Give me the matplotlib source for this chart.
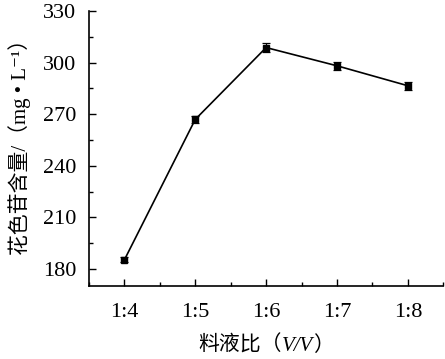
import numpy as np
import matplotlib
matplotlib.use('Agg')
import matplotlib.pyplot as plt
from matplotlib.ticker import MultipleLocator

# data
ratios = ['1:4', '1:5', '1:6', '1:7', '1:8']
content = [185.3, 267.0, 308.8, 298.2, 286.6]
errors = [1.5, 2.2, 2.6, 2.4, 2.3]

fam = ['Liberation Serif', 'Noto Sans CJK SC', 'DejaVu Serif']
plt.rcParams['font.family'] = fam

fig = plt.figure(figsize=(4.45, 3.59), dpi=100)
ax = fig.add_axes([0.2, 0.203, 0.796, 0.766])

x = np.arange(len(ratios))
ax.errorbar(x, content, yerr=errors, color='black', lw=1.2, marker='s',
            markersize=4.5, capsize=3, elinewidth=0.9, capthick=0.9)

ax.set_xlim(-0.5, 4.5)
ax.set_ylim(170, 330)
ax.set_xticks(x)
ax.set_xticklabels(ratios)
ax.xaxis.set_minor_locator(MultipleLocator(0.5))
ax.yaxis.set_minor_locator(MultipleLocator(15))
ax.set_yticks([180, 210, 240, 270, 300, 330])

for s in ['top', 'right']:
    ax.spines[s].set_visible(False)
for s in ['left', 'bottom']:
    ax.spines[s].set_linewidth(1.2)
ax.tick_params(which='both', direction='in', width=1.0, labelsize=16)
ax.tick_params(which='major', length=5)
ax.tick_params(which='minor', length=3)
ax.tick_params(axis='x', pad=12)
ax.tick_params(axis='y', pad=9)

ax.set_ylabel('花色苷含量/（mg • L⁻¹）', fontsize=15)
ax.yaxis.set_label_coords(-0.165, 0.525)

# x label in pieces so V/V can be italic
fig.canvas.draw()
r = fig.canvas.get_renderer()
ypos = 0.022
t1 = fig.text(0, ypos, '料液比（', fontsize=15)
t2 = fig.text(0, ypos, 'V/V', fontsize=15, style='italic')
t3 = fig.text(0, ypos, '）', fontsize=15)
w = [t.get_window_extent(r).width for t in (t1, t2, t3)]
total = sum(w)
cx = (ax.get_window_extent(r).x0 + ax.get_window_extent(r).x1) / 2
start = cx - total / 2
for t, wi in zip((t1, t2, t3), w):
    t.set_x(start / fig.bbox.width)
    start += wi

plt.savefig('out.png', dpi=100)
